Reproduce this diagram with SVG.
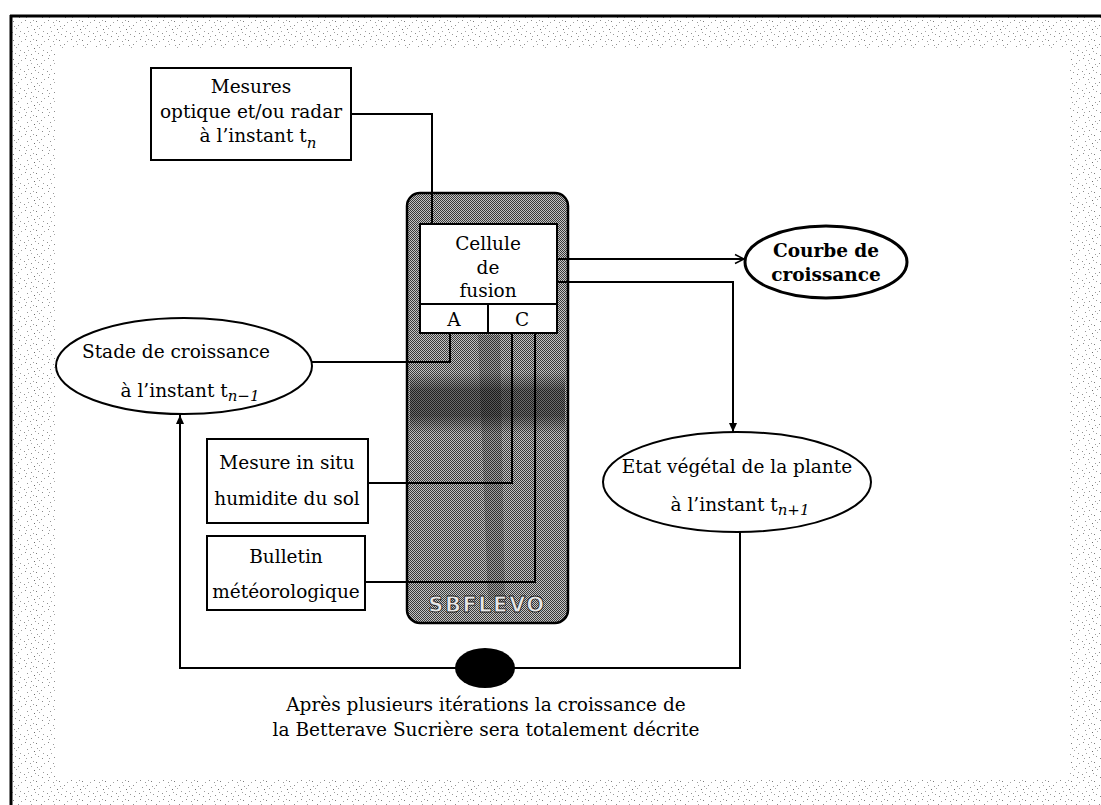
<svg xmlns="http://www.w3.org/2000/svg" width="1101" height="805" viewBox="0 0 1101 805">
<style>
.t{font-family:"DejaVu Serif","Liberation Serif",serif;font-size:18.5px;fill:#000;text-anchor:middle}
.tb{font-family:"DejaVu Serif","Liberation Serif",serif;font-size:18.5px;font-weight:bold;fill:#000;text-anchor:middle}
.sub{font-style:italic;font-size:15px}
.box{fill:#fff;stroke:#000;stroke-width:2}
.ell{fill:#fff;stroke:#000;stroke-width:2}
.ln{fill:none;stroke:#000;stroke-width:2}
</style>
<defs>
<pattern id="speck" width="23" height="19" patternUnits="userSpaceOnUse">
<rect width="23" height="19" fill="#fff"/>
<rect x="2" y="1" width="1" height="1" fill="#8a8a8a"/>
<rect x="7" y="3" width="1" height="1" fill="#9a9a9a"/>
<rect x="10" y="1" width="1" height="1" fill="#a0a0a0"/>
<rect x="13" y="2" width="1" height="1" fill="#7c7c7c"/>
<rect x="18" y="6" width="1" height="1" fill="#909090"/>
<rect x="21" y="3" width="1" height="1" fill="#a4a4a4"/>
<rect x="4" y="8" width="1" height="1" fill="#959595"/>
<rect x="8" y="6" width="1" height="1" fill="#a8a8a8"/>
<rect x="11" y="10" width="1" height="1" fill="#6a6a6a"/>
<rect x="14" y="7" width="1" height="1" fill="#9c9c9c"/>
<rect x="20" y="12" width="1" height="1" fill="#9e9e9e"/>
<rect x="1" y="14" width="1" height="1" fill="#8f8f8f"/>
<rect x="5" y="12" width="1" height="1" fill="#a6a6a6"/>
<rect x="8" y="16" width="1" height="1" fill="#8c8c8c"/>
<rect x="15" y="15" width="1" height="1" fill="#999"/>
<rect x="16" y="9" width="1" height="1" fill="#a9a9a9"/>
<rect x="12" y="13" width="1" height="1" fill="#a0a0a0"/>
<rect x="19" y="17" width="1" height="1" fill="#888"/>
<rect x="3" y="17" width="1" height="1" fill="#a2a2a2"/>
</pattern>
<pattern id="dither" width="2" height="2" patternUnits="userSpaceOnUse">
<rect width="2" height="2" fill="#c4c4c4"/>
<rect width="1" height="1" fill="#3a3a3a"/>
<rect x="1" y="1" width="1" height="1" fill="#3a3a3a"/>
</pattern>
<linearGradient id="band" x1="0" y1="0" x2="0" y2="1">
<stop offset="0" stop-color="#000" stop-opacity="0"/>
<stop offset="0.3" stop-color="#000" stop-opacity="0.45"/>
<stop offset="0.7" stop-color="#000" stop-opacity="0.45"/>
<stop offset="1" stop-color="#000" stop-opacity="0"/>
</linearGradient>
<marker id="arrowFill" markerWidth="10" markerHeight="10" refX="9" refY="5" orient="auto" markerUnits="userSpaceOnUse">
<path d="M0,1 L9,5 L0,9 Z" fill="#000"/>
</marker>
<marker id="arrowOpen" markerWidth="12" markerHeight="12" refX="10" refY="6" orient="auto" markerUnits="userSpaceOnUse">
<path d="M1,1.5 L10,6 L1,10.5" fill="none" stroke="#000" stroke-width="1.5"/>
</marker>
</defs>

<rect width="1101" height="805" fill="#fff"/>
<!-- frame -->
<g id="frame">
<path d="M11,17 H1101 V805 H11 Z M55,48 V780 H1070 V48 Z" fill="url(#speck)" fill-rule="evenodd"/>
<line x1="10" y1="16" x2="1101" y2="16" stroke="#000" stroke-width="3"/>
<line x1="11" y1="15" x2="11" y2="805" stroke="#000" stroke-width="3"/>
</g>

<!-- SBFLEVO container -->
<g id="sbflevo">
<rect x="407" y="193" width="161" height="430" rx="13" ry="13" fill="url(#dither)" stroke="#000" stroke-width="2.5"/>
<rect x="410" y="372" width="155" height="62" fill="url(#band)"/>
<path d="M478,335 L500,335 L505,600 L488,600 Z" fill="#000" fill-opacity="0.18"/>
<text x="487" y="612" style="font-family:'DejaVu Sans','Liberation Sans',sans-serif;font-size:21px;font-weight:bold;fill:#e6e6e6;stroke:#1a1a1a;stroke-width:0.8;text-anchor:middle;letter-spacing:1.5px">SBFLEVO</text>
</g>

<!-- connectors -->
<g id="connectors">
<polyline class="ln" points="351,114 432,114 432,224"/>
<polyline class="ln" points="312,362 450,362 450,333"/>
<polyline class="ln" points="368,483 512,483 512,333"/>
<polyline class="ln" points="365,582 535,582 535,333"/>
<line class="ln" x1="557" y1="259" x2="744" y2="259" marker-end="url(#arrowOpen)"/>
<polyline class="ln" points="557,282 733,282 733,432" marker-end="url(#arrowFill)"/>
<polyline class="ln" points="740,532 740,668 180,668 180,415" marker-end="url(#arrowFill)"/>
</g>

<!-- Cellule de fusion -->
<g id="cellule">
<rect class="box" x="420" y="224" width="137" height="80"/>
<rect class="box" x="420" y="304" width="68" height="29"/>
<rect class="box" x="488" y="304" width="69" height="29"/>
<text class="t" x="488" y="250">Cellule</text>
<text class="t" x="488" y="274">de</text>
<text class="t" x="488" y="297">fusion</text>
<text class="t" x="454" y="326">A</text>
<text class="t" x="522" y="326">C</text>
</g>

<g id="mesures">
<rect class="box" x="151" y="68" width="200" height="92"/>
<text class="t" x="251" y="93">Mesures</text>
<text class="t" x="251" y="118">optique et/ou radar</text>
<text class="t" x="258" y="142">à l’instant t<tspan class="sub" dy="6">n</tspan></text>
</g>

<g id="courbe">
<ellipse class="ell" cx="826" cy="262" rx="81" ry="36" style="stroke-width:3"/>
<text class="tb" x="826" y="257">Courbe de</text>
<text class="tb" x="826" y="281">croissance</text>
</g>

<g id="stade">
<ellipse class="ell" cx="184" cy="366" rx="128" ry="48"/>
<text class="t" x="176" y="358">Stade de croissance</text>
<text class="t" x="190" y="397">à l’instant t<tspan class="sub" dy="4">n−1</tspan></text>
</g>

<g id="mesure-in-situ">
<rect class="box" x="207" y="439" width="161" height="84"/>
<text class="t" x="287" y="469">Mesure in situ</text>
<text class="t" x="287" y="505">humidite du sol</text>
</g>

<g id="bulletin">
<rect class="box" x="207" y="536" width="158" height="74"/>
<text class="t" x="286" y="563">Bulletin</text>
<text class="t" x="286" y="598">météorologique</text>
</g>

<g id="etat">
<ellipse class="ell" cx="737" cy="482" rx="134" ry="50"/>
<text class="t" x="737" y="473">Etat végétal de la plante</text>
<text class="t" x="740" y="511">à l’instant t<tspan class="sub" dy="4">n+1</tspan></text>
</g>

<g id="junction">
<ellipse cx="485" cy="668" rx="30" ry="20" fill="#000"/>
</g>

<g id="caption">
<text class="t" x="486" y="711">Après plusieurs itérations la croissance de</text>
<text class="t" x="486" y="736">la Betterave Sucrière sera totalement décrite</text>
</g>
</svg>
